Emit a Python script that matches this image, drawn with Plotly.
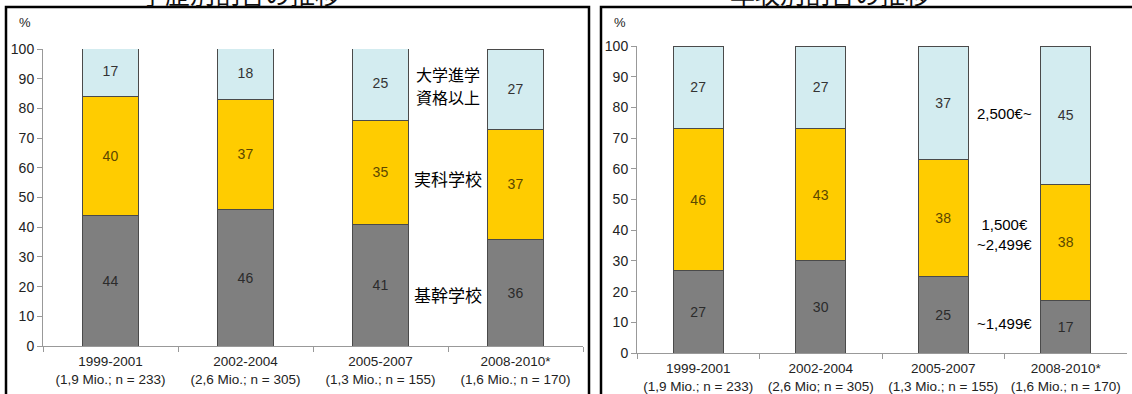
import plotly.graph_objects as go

W, H = 1132, 394

periods = ["1999-2001", "2002-2004", "2005-2007", "2008-2010*"]
left_sub = ["(1,9 Mio.; n = 233)", "(2,6 Mio.; n = 305)", "(1,3 Mio.; n = 155)", "(1,6 Mio.; n = 170)"]
right_sub = ["(1,9 Mio.; n = 233)", "(2,6 Mio; n = 305)", "(1,3 Mio.; n = 155)", "(1,6 Mio.; n = 170)"]

edu_low = [44, 46, 41, 36]
edu_mid = [40, 37, 35, 37]
edu_high = [17, 18, 25, 27]

inc_low = [27, 30, 25, 17]
inc_mid = [46, 43, 38, 38]
inc_high = [27, 27, 37, 45]

left_title = "学歴別割合の推移"
right_title = "年収別割合の推移"
edu_names = ["基幹学校", "実科学校", "大学進学", "資格以上"]
inc_names = ["~1,499€", "1,500€<br>~2,499€", "2,500€~"]

GRAY, YELLOW, BLUE = "#7f7f7f", "#ffcc00", "#d3ecf0"
EDGE = "#4a4a4a"

left_cats = [f"{p}<br>{s}" for p, s in zip(periods, left_sub)]
right_cats = [f"{p}<br>{s}" for p, s in zip(periods, right_sub)]

fig = go.Figure()

def add_stack(cats, vals_list, xa, ya):
    cols = [GRAY, YELLOW, BLUE]
    tcols = ["#2b2b2b", "#5c4700", "#333333"]
    for vals, c, tc in zip(vals_list, cols, tcols):
        fig.add_trace(go.Bar(
            x=cats, y=vals, xaxis=xa, yaxis=ya,
            marker=dict(color=c, line=dict(color=EDGE, width=1)),
            text=[str(v) for v in vals], textposition="inside",
            insidetextanchor="middle", constraintext="none",
            textfont=dict(size=14, color=tc, family="Liberation Sans, Arial"),
            width=0.41, showlegend=False, hoverinfo="skip",
        ))

add_stack(left_cats, [edu_low, edu_mid, edu_high], "x", "y")
add_stack(right_cats, [inc_low, inc_mid, inc_high], "x2", "y2")

def px_x(p):
    return p / W

def px_y(p):
    return 1 - p / H

axis_font = dict(size=14, color="#222222", family="Liberation Sans, Arial")
xfont = dict(size=13.5, color="#222222", family="Liberation Sans, Arial")
common_y = dict(range=[0, 100], dtick=10, ticks="outside", ticklen=5, tickcolor="#999",
                showline=True, linecolor="#999", linewidth=1, showgrid=False, zeroline=False,
                tickfont=axis_font, fixedrange=True, automargin=False)
common_x = dict(type="category", ticks="outside", tickson="boundaries", ticklen=5,
                tickcolor="#999", showline=True, linecolor="#999", linewidth=1,
                showgrid=False, tickfont=xfont, fixedrange=True, automargin=False,
                ticklabelstandoff=3)

fig.update_layout(
    width=W, height=H, margin=dict(l=0, r=0, t=0, b=0, autoexpand=False),
    paper_bgcolor="white", plot_bgcolor="white", barmode="stack",
    xaxis=dict(domain=[px_x(43), px_x(583)], anchor="y", **common_x),
    yaxis=dict(domain=[px_y(346), px_y(49)], anchor="x", **common_y),
    xaxis2=dict(domain=[px_x(637), px_x(1127)], anchor="y2", **common_x),
    yaxis2=dict(domain=[px_y(353), px_y(46)], anchor="x2", **common_y),
    font=dict(family="Liberation Sans, Arial"),
)

# panel borders
fig.add_shape(type="path", xref="paper", yref="paper",
              path=f"M {px_x(6)},{px_y(420)} L {px_x(6)},{px_y(7)} L {px_x(589)},{px_y(7)} L {px_x(589)},{px_y(420)}",
              line=dict(color="black", width=2.5))
fig.add_shape(type="path", xref="paper", yref="paper",
              path=f"M {px_x(601)},{px_y(420)} L {px_x(601)},{px_y(7)} L {px_x(1140)},{px_y(7)}",
              line=dict(color="black", width=2.5))

def ann(x, y, text, size, color="black", xanchor="center", family="Noto Sans CJK JP", align="center"):
    fig.add_annotation(x=px_x(x), y=px_y(y), xref="paper", yref="paper", text=text,
                       showarrow=False, xanchor=xanchor, yanchor="middle", align=align,
                       font=dict(size=size, color=color, family=family))

# cropped titles
ann(240, -7, left_title, 25, color="#111")
ann(830, -7, right_title, 25, color="#111")

# percent labels
ann(25, 22, "%", 13, color="#222", family="Liberation Sans, Arial")
ann(620, 22, "%", 13, color="#222", family="Liberation Sans, Arial")

# left side category labels
ann(448, 74, edu_names[2], 16)
ann(448, 97, edu_names[3], 16)
ann(448, 178, edu_names[1], 17)
ann(448, 294, edu_names[0], 17)

# right side income labels
ann(1004, 113, inc_names[2], 15, family="Liberation Sans, Arial")
ann(1004, 234, inc_names[1], 15, family="Liberation Sans, Arial")
ann(1004, 323, inc_names[0], 15, family="Liberation Sans, Arial")

fig.write_html("out.html")
